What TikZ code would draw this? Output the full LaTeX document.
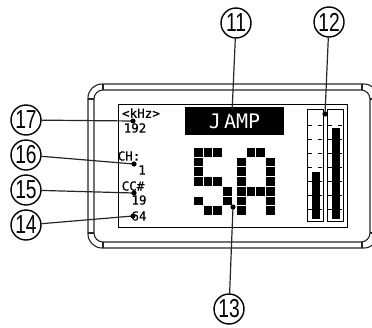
\documentclass[tikz,border=0pt]{standalone}
\usepackage{fontspec}
\setsansfont{Liberation Sans}[FakeStretch=0.74]
\newfontfamily\lcdfont{DejaVu Sans Mono}[FakeBold=0.6]
\newfontfamily\modefont{DejaVu Sans Mono}
\usepackage{tikz}

\begin{document}
\begin{tikzpicture}[x=1pt,y=-1pt,
  callout/.style={draw,circle,line width=1.4pt,minimum size=30pt,inner sep=0pt,font=\sffamily\fontsize{26}{26}\selectfont},
  lead/.style={line width=1.2pt,black!85},
  lcd/.style={inner sep=0pt,font=\lcdfont\fontsize{12.5}{12.5}\selectfont},
  rim/.style={line width=1.1pt,black!85}]

\useasboundingbox (0,0) rectangle (372,327);
\clip (0,0) rectangle (372,327);

% housing
\draw[rim,rounded corners=14pt] (88,84) rectangle (378,248);
\draw[rim,rounded corners=9pt] (94,90) rectangle (370,242);
\foreach \x in {103,362} {
\draw[rim] (\x,84) -- (\x,90);
\draw[rim] (\x,242) -- (\x,248);
}
\foreach \y in {99,233} {
\draw[rim] (88,\y) -- (94,\y);
\draw[rim] (370,\y) -- (378,\y);
}

% display
\draw[line width=0.9pt] (118,104) rectangle (347,227);

\node[fill=black,text=white,minimum width=99pt,minimum height=28pt,inner sep=0pt,font=\modefont\fontsize{20}{20}\selectfont] (mode) at (234.5,121) {J\,AMP};

\foreach \c/\r in {0/0,1/0,2/0,0/1,0/2,0/3,1/3,2/3,3/4,0/5,3/5,1/6,2/6} {
\fill (194+9.7*\c,148+9.7*\r) rectangle ++(8.7,8.7);
}
\foreach \c/\r in {1/0,2/0,0/1,3/1,0/2,3/2,0/3,3/3,0/4,1/4,2/4,3/4,0/5,3/5,0/6,3/6} {
\fill (237+9.7*\c,148+9.7*\r) rectangle ++(8.7,8.7);
}

\foreach \bx/\lvl in {307/172,327/128} {
\draw[line width=0.8pt] (\bx,109) rectangle ++(16,112);
\fill (\bx+4.5,\lvl) rectangle (\bx+12.5,219);
\foreach \ty in {125,139,...,209} {
\draw[line width=0.7pt] (\bx+1,\ty) -- ++(4,0) (\bx+11,\ty) -- ++(4,0);
}
}

\node[lcd] (khz) at (141,113) {<kHz>};
\node[lcd] (rate) at (135,128) {192};
\node[lcd] (ch) at (129,156) {CH:};
\node[lcd] (chval) at (142,170) {1};
\node[lcd] (cc) at (133,186) {CC\#};
\node[lcd] (ccval) at (139,200) {19};
\node[lcd] (vel) at (139,216) {64};

% callouts
\node[callout] (c11) at (236,23) {11};
\node[callout] (c12) at (329,22) {12};
\node[callout] (c13) at (229,309) {13};
\node[callout] (c14) at (26,225) {14};
\node[callout] (c15) at (26,190) {15};
\node[callout] (c16) at (26,155) {16};
\node[callout] (c17) at (26,120) {17};

\coordinate (p11) at (232,113);
\coordinate (p12) at (325,114);
\coordinate (p13) at (233,207);
\coordinate (p14) at (133,216);
\coordinate (p15) at (134,193);
\coordinate (p16) at (134,164);
\coordinate (p17) at (133,121);

\foreach \n in {11,...,17} {
\draw[lead] (c\n) -- (p\n);
\fill (p\n) circle[radius=2.6pt];
}

\end{tikzpicture}
\end{document}
